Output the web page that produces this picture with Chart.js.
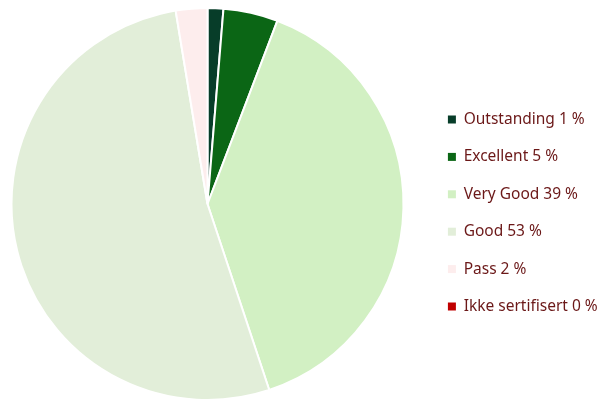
<!DOCTYPE html>
<html>
<head>
<meta charset="utf-8">
<script src="https://cdn.jsdelivr.net/npm/chart.js@4/dist/chart.umd.min.js"></script>
<style>
  html, body { margin: 0; padding: 0; background: #fff; }
  #wrap { width: 599px; height: 401px; position: relative; }
</style>
</head>
<body>
<div id="wrap"><canvas id="pie_chart"></canvas></div>
<script>
// energy rating shares (slice sizes) and the printed percentages
const labels = ['Outstanding', 'Excellent', 'Very Good', 'Good', 'Pass', 'Ikke sertifisert'];
const values = [1.3, 4.5, 39.1, 52.5, 2.6, 0];
const shownPct = [1, 5, 39, 53, 2, 0];
const colors = ['#073d29', '#0b6615', '#d2f0c3', '#e2eed9', '#fdeded', '#c00000'];

const LEGEND_LEFT = 415;
const LEGEND_SHIFT_X = 11;
const LEGEND_SHIFT_Y = 9;

// force legend width and nudge it a bit
const legendFix = {
    id: 'legendFix',
    beforeInit(chart) {
        const fit = chart.legend.fit;
        chart.legend.fit = function() {
            fit.bind(chart.legend)();
            this.width = 599 - LEGEND_LEFT;
        };
    },
    afterLayout(chart) {
        chart.legend.left += LEGEND_SHIFT_X;
        chart.legend.right += LEGEND_SHIFT_X;
        chart.legend.top += LEGEND_SHIFT_Y;
        chart.legend.bottom += LEGEND_SHIFT_Y;
    }
};

const ctx = document.getElementById('pie_chart').getContext('2d');
const pieChart = new Chart(ctx, {
    type: 'pie',
    data: {
        labels: labels,
        datasets: [{
            data: values,
            backgroundColor: colors,
            borderColor: '#ffffff',
            borderWidth: 2,
            hoverOffset: 0
        }]
    },
    options: {
        responsive: true,
        maintainAspectRatio: false,
        animation: false,
        layout: { padding: { top: 7, bottom: 0, left: 0, right: 0 } },
        plugins: {
            tooltip: { enabled: false },
            legend: {
                position: 'right',
                align: 'center',
                labels: {
                    boxWidth: 8,
                    boxHeight: 8,
                    padding: 21.9,
                    color: '#6b1818',
                    font: { family: 'Noto Sans', size: 15.5 },
                    generateLabels: function(chart) {
                        return labels.map(function(l, i) {
                            return {
                                text: l + ' ' + shownPct[i] + ' %',
                                fillStyle: colors[i],
                                strokeStyle: colors[i],
                                lineWidth: 0,
                                hidden: false,
                                index: i,
                                fontColor: '#6b1818'
                            };
                        });
                    }
                }
            }
        }
    },
    plugins: [legendFix]
});
</script>
</body>
</html>
